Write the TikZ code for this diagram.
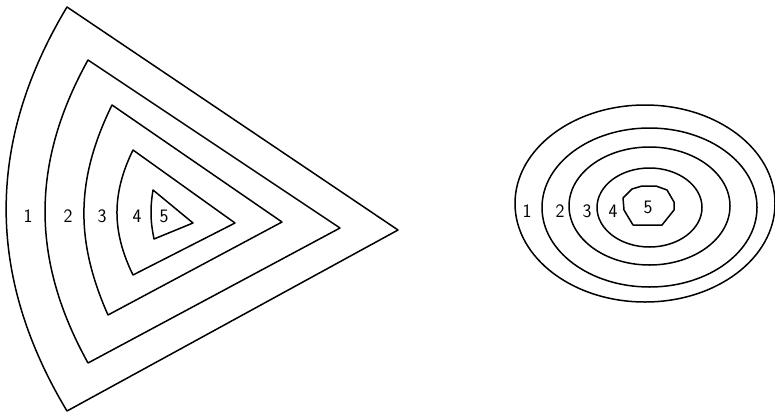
\documentclass[tikz,border=0pt]{standalone}
\begin{document}
\begin{tikzpicture}[x=1pt,y=-1pt,
  contour/.style={draw=black,line width=1.5pt,line join=round},
  lab/.style={font=\sffamily\fontsize{19}{19}\selectfont,inner sep=0pt}]
\useasboundingbox (0,0) rectangle (775,415);
% ---- left: nested sectors ----
\coordinate (t1) at (67,7);   \coordinate (r1) at (398,230); \coordinate (b1) at (67,411);
\coordinate (t2) at (88,60);  \coordinate (r2) at (340,228); \coordinate (b2) at (88,363);
\coordinate (t3) at (112,105);\coordinate (r3) at (282,222); \coordinate (b3) at (108,315);
\coordinate (t4) at (133,150);\coordinate (r4) at (235,223); \coordinate (b4) at (133,275);
\coordinate (t5) at (153,190);\coordinate (r5) at (193,223); \coordinate (b5) at (154,239);
\draw[contour] (t1) -- (r1) -- (b1) to[bend left=31] (t1) -- cycle;
\draw[contour] (t2) -- (r2) -- (b2) to[bend left=29] (t2) -- cycle;
\draw[contour] (t3) -- (r3) -- (b3) to[bend left=25] (t3) -- cycle;
\draw[contour] (t4) -- (r4) -- (b4) to[bend left=26] (t4) -- cycle;
\draw[contour] (t5) -- (r5) -- (b5) to[bend left=10] (t5) -- cycle;
\node[lab] (L1) at (28,216) {1};
\node[lab] (L2) at (68,216) {2};
\node[lab] (L3) at (102,216) {3};
\node[lab] (L4) at (137,216) {4};
\node[lab] (L5) at (164,216) {5};
% ---- right: nested ovals ----
\draw[contour] (645,203.5) ellipse [x radius=130pt, y radius=98.5pt];
\draw[contour] (649.5,207.5) ellipse [x radius=107.5pt, y radius=79.5pt];
\draw[contour] (649.5,206) ellipse [x radius=80.5pt, y radius=59pt];
\draw[contour] (649.5,207.5) ellipse [x radius=52.5pt, y radius=39.5pt];
\draw[contour] (642,186) -- (656,186) -- (667,190) -- (674,202) -- (674,210)
  -- (662,225) -- (633,225) -- (624,210) -- (623,198) -- (632,189) -- cycle;
\node[lab] (R1) at (527,211) {1};
\node[lab] (R2) at (560,211) {2};
\node[lab] (R3) at (587,211) {3};
\node[lab] (R4) at (613,211) {4};
\node[lab] (R5) at (648,207) {5};
\end{tikzpicture}
\end{document}
